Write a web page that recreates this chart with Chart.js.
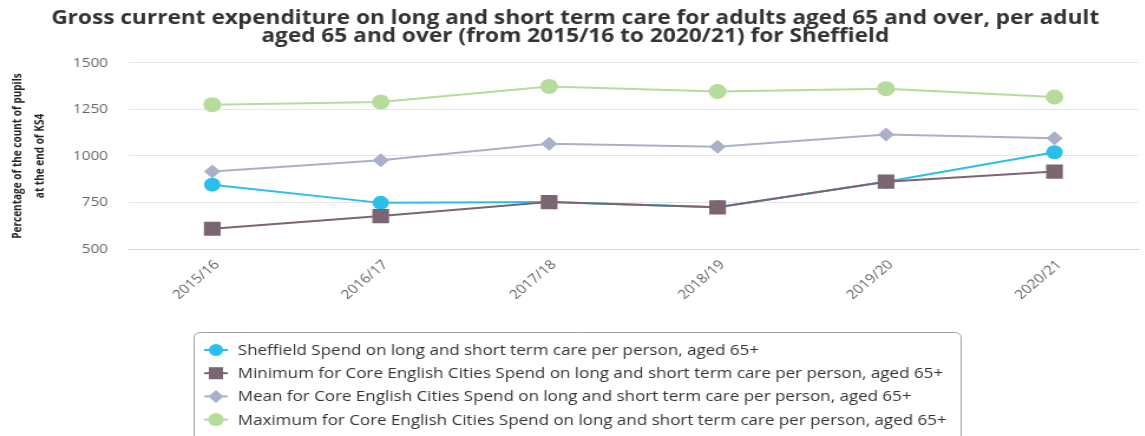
<!DOCTYPE html>
<html>
<head>
<meta charset="utf-8">
<script src="https://cdn.jsdelivr.net/npm/chart.js@4/dist/chart.umd.min.js"></script>
<style>
  html, body { margin: 0; padding: 0; background: #fff; overflow: hidden; width: 1145px; height: 436px; }
  /* the source picture is a horizontally stretched screenshot */
  #wrap { width: 975px; height: 436px; transform: scaleX(1.18); transform-origin: 0 0; }
</style>
</head>
<body>
<div id="wrap"><canvas id="myChart" width="975" height="436"></canvas></div>
<script>
const years = ["2015/16", "2016/17", "2017/18", "2018/19", "2019/20", "2020/21"];
const sheffield = [846, 748, 752, 724, 862, 1020];
const minimum = [609, 677, 752, 724, 862, 916];
const mean = [917, 977, 1066, 1050, 1116, 1095];
const maximum = [1276, 1290, 1374, 1347, 1362, 1317];
const yTicks = [500, 750, 1000, 1250, 1500];

const FONT = "'Open Sans', 'Noto Sans', sans-serif";

/* legend drawn in a rounded box, one row per series */
const boxLegend = {
  id: "boxLegend",
  afterDraw(chart) {
    const ctx = chart.ctx;
    ctx.save();
    ctx.strokeStyle = "#a0a0a0";
    ctx.lineWidth = 1;
    ctx.beginPath();
    ctx.roundRect(164.5, 332.5, 650, 130, 5);
    ctx.stroke();
    chart.data.datasets.forEach((ds, i) => {
      const y = 350 + i * 23.2;
      ctx.strokeStyle = ds.borderColor;
      ctx.lineWidth = 2;
      ctx.beginPath();
      ctx.moveTo(173, y);
      ctx.lineTo(193, y);
      ctx.stroke();
      ctx.fillStyle = ds.backgroundColor;
      Chart.helpers.drawPoint(ctx, { pointStyle: ds.pointStyle, radius: ds.legendRadius, borderWidth: 0, rotation: 0 }, 183, y);
      ctx.fillStyle = "#333333";
      ctx.font = "14.4px " + FONT;
      ctx.textBaseline = "middle";
      ctx.textAlign = "left";
      ctx.fillText(ds.label, 201.5, y + 1);
    });
    ctx.restore();
  }
};

const ctx = document.getElementById("myChart");
const dataset = {
  labels: years,
  datasets: [
    {
      label: "Sheffield Spend on long and short term care per person, aged 65+",
      data: sheffield,
      borderColor: "#2bbdeb",
      backgroundColor: "#2bbdeb",
      pointStyle: "circle",
      pointRadius: 7,
      legendRadius: 6,
      order: 3,
    },
    {
      label: "Minimum for Core English Cities Spend on long and short term care per person, aged 65+",
      data: minimum,
      borderColor: "#7b6570",
      backgroundColor: "#7b6570",
      pointStyle: "rect",
      pointRadius: 10,
      legendRadius: 8.5,
      order: 0,
    },
    {
      label: "Mean for Core English Cities Spend on long and short term care per person, aged 65+",
      data: mean,
      borderColor: "#aab0c8",
      backgroundColor: "#aab0c8",
      pointStyle: "rectRot",
      pointRadius: 7,
      legendRadius: 6.5,
      order: 2,
    },
    {
      label: "Maximum for Core English Cities Spend on long and short term care per person, aged 65+",
      data: maximum,
      borderColor: "#b5dc9c",
      backgroundColor: "#b5dc9c",
      pointStyle: "circle",
      pointRadius: 7.5,
      legendRadius: 6.5,
      order: 1,
    },
  ],
};

const config = {
  type: "line",
  data: dataset,
  options: {
    responsive: false,
    animation: false,
    layout: { padding: { left: 0, right: 0, top: 0, bottom: 137 } },
    elements: {
      line: { borderWidth: 2, tension: 0, fill: false },
      point: { borderWidth: 0, hoverRadius: 8 },
    },
    plugins: {
      legend: { display: false },
      tooltip: { enabled: false },
      title: {
        display: true,
        text: [
          "Gross current expenditure on long and short term care for adults aged 65 and over, per adult",
          "aged 65 and over (from 2015/16 to 2020/21) for Sheffield",
        ],
        color: "#333333",
        font: { family: FONT, size: 19.2, weight: "bold", lineHeight: 0.95 },
        padding: { top: 9, bottom: 17.5 },
      },
    },
    scales: {
      x: {
        offset: true,
        grid: { display: false, drawTicks: false },
        border: { display: true, color: "#ccd6eb", width: 1 },
        ticks: {
          color: "#666666",
          font: { family: FONT, size: 13 },
          maxRotation: 45,
          minRotation: 45,
          padding: 8,
          labelOffset: 4,
        },
        afterFit: (scale) => { scale.height = 50; },
      },
      y: {
        min: 500,
        max: 1500,
        afterBuildTicks: (scale) => { scale.ticks = yTicks.map((v) => ({ value: v })); },
        grid: { color: "#e6e6e6", drawTicks: false },
        border: { display: false },
        ticks: {
          color: "#666666",
          font: { family: FONT, size: 13 },
          padding: 17,
          callback: (v) => String(v),
        },
        title: {
          display: true,
          text: ["Percentage of the count of pupils", "at the end of KS4"],
          color: "#222222",
          font: { family: FONT, size: 10, weight: "bold", lineHeight: 1.85 },
          padding: { top: 6, bottom: 0 },
        },
        afterFit: (scale) => { scale.width = 108.5; },
      },
    },
  },
  plugins: [boxLegend],
};

const chart = new Chart(ctx, config);
</script>
</body>
</html>
